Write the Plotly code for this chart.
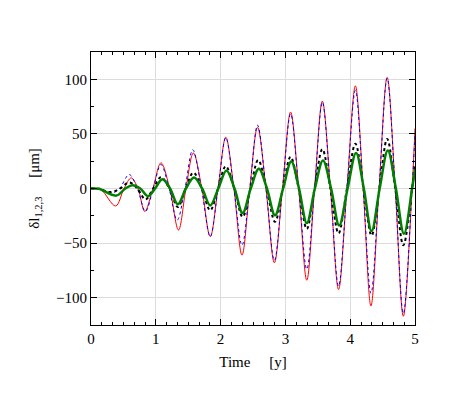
import plotly.graph_objects as go

# values: extrema and zero crossings, time in years
t_red = [0, 0.15, 0.38, 0.51, 0.62, 0.725, 0.83, 0.955, 1.08, 1.215, 1.35, 1.465, 1.58,
         1.71, 1.84, 1.96, 2.08, 2.205, 2.33, 2.45, 2.57, 2.70, 2.83, 2.955, 3.08, 3.205,
         3.33, 3.45, 3.57, 3.695, 3.82, 3.95, 4.08, 4.20, 4.32, 4.445, 4.57, 4.695, 4.82,
         4.955, 5.0]
d_red = [0, -1, -16, 0, 9.7, 0, -21, 0, 23.5, 0, -38, 0, 32.5,
         0, -44, 0, 47, 0, -61, 0, 56, 0, -68, 0, 70, 0,
         -84, 0, 80, 0, -92.5, 0, 94, 0, -107.5, 0, 101.7, 0, -117,
         0, 55]

t_blue = [0, 0.15, 0.33, 0.44, 0.59, 0.715, 0.84, 0.96, 1.08, 1.205, 1.33, 1.45, 1.57,
          1.705, 1.84, 1.96, 2.08, 2.205, 2.33, 2.45, 2.57, 2.70, 2.83, 2.955, 3.08, 3.205,
          3.33, 3.45, 3.57, 3.695, 3.82, 3.95, 4.08, 4.20, 4.32, 4.445, 4.57, 4.695, 4.82,
          4.955, 5.0]
d_blue = [0, -0.5, -4, 0, 12.8, 0, -21, 0, 22, 0, -29, 0, 35.5,
          0, -44, 0, 46.5, 0, -52, 0, 58, 0, -66, 0, 68.5, 0,
          -74, 0, 79, 0, -89.5, 0, 90, 0, -96, 0, 101, 0, -114.5,
          0, 50]

t_black = [0, 0.12, 0.3, 0.45, 0.59, 0.715, 0.84, 0.96, 1.08, 1.21, 1.34, 1.46, 1.58,
           1.71, 1.84, 1.96, 2.08, 2.21, 2.34, 2.46, 2.58, 2.71, 2.84, 2.96, 3.08, 3.205,
           3.33, 3.45, 3.57, 3.695, 3.82, 3.95, 4.08, 4.205, 4.33, 4.45, 4.57, 4.695, 4.82,
           4.955, 5.0]
d_black = [0, -0.3, -3.3, 0, 5.5, 0, -10, 0, 10.4, 0, -17, 0, 14.5,
           0, -20, 0, 20.4, 0, -26, 0, 26, 0, -30.5, 0, 29, 0,
           -37, 0, 36, 0, -41, 0, 41, 0, -43, 0, 45.4, 0, -52,
           0, 22]

t_green = [0, 0.12, 0.39, 0.53, 0.64, 0.76, 0.88, 0.99, 1.1, 1.22, 1.34, 1.465, 1.59,
           1.715, 1.84, 1.965, 2.09, 2.215, 2.34, 2.465, 2.59, 2.715, 2.84, 2.965, 3.09, 3.21,
           3.33, 3.455, 3.58, 3.705, 3.83, 3.96, 4.09, 4.21, 4.33, 4.455, 4.58, 4.705, 4.83,
           4.955, 5.0]
d_green = [0, -0.3, -6.5, 0, 3, 0, -7, 0, 8.5, 0, -14.5, 0, 10,
           0, -15.5, 0, 16.5, 0, -22.5, 0, 18, 0, -24.5, 0, 24.7, 0,
           -31.7, 0, 25.6, 0, -33.8, 0, 32.6, 0, -39, 0, 34.7, 0, -41.5,
           0, 18]

FONT = "Liberation Serif, Times New Roman, serif"

fig = go.Figure()
fig.add_trace(go.Scatter(x=t_red, y=d_red, mode="lines",
                         line=dict(color="#ff0000", width=1, shape="spline", smoothing=1)))
fig.add_trace(go.Scatter(x=t_blue, y=d_blue, mode="lines",
                         line=dict(color="#0000ff", width=1, dash="dot", shape="spline", smoothing=1)))
fig.add_trace(go.Scatter(x=t_black, y=d_black, mode="lines",
                         line=dict(color="#000000", width=2, dash="3px,3px", shape="spline", smoothing=1)))
fig.add_trace(go.Scatter(x=t_green, y=d_green, mode="lines",
                         line=dict(color="#008000", width=2.5, shape="spline", smoothing=1)))

axis_common = dict(
    showline=True, linecolor="black", linewidth=1, mirror="ticks",
    ticks="inside", ticklen=6, tickcolor="black",
    showgrid=True, gridcolor="#dcdcdc", gridwidth=1, zeroline=False,
    tickfont=dict(family=FONT, size=15, color="black"),
)

fig.update_xaxes(
    range=[0, 5], dtick=1,
    minor=dict(dtick=1 / 6, ticks="inside", ticklen=3, tickcolor="black", showgrid=False),
    title=dict(text="Time&nbsp;&nbsp;&nbsp;&nbsp;&nbsp;[y]", font=dict(family=FONT, size=15, color="black"),
               standoff=10),
    **axis_common,
)
fig.update_yaxes(
    range=[-125, 125], dtick=50,
    minor=dict(dtick=25, ticks="inside", ticklen=3, tickcolor="black", showgrid=False),
    title=dict(text="δl<sub>1,2,3</sub>&nbsp;&nbsp;&nbsp;&nbsp;&nbsp;[μm]",
               font=dict(family=FONT, size=15, color="black"), standoff=12),
    **axis_common,
)

fig.update_layout(
    width=463, height=398,
    margin=dict(l=83, r=56, t=44, b=81),
    paper_bgcolor="white", plot_bgcolor="white",
    showlegend=False,
)

fig.write_html("out.html")
